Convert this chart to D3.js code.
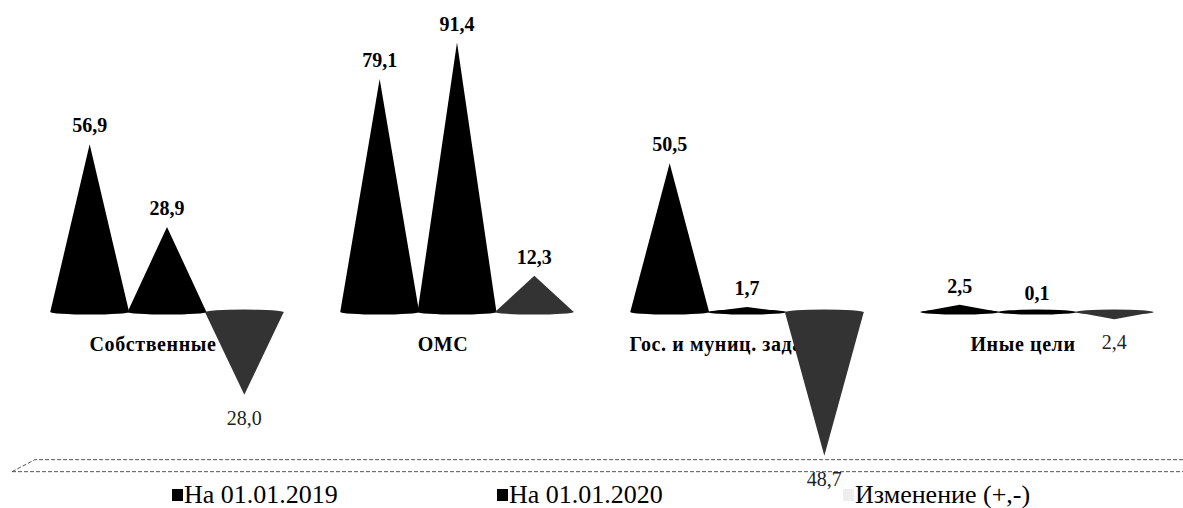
<!DOCTYPE html>
<html>
<head>
<meta charset="utf-8">
<script src="https://cdn.jsdelivr.net/npm/d3@7"></script>
<style>
  body { margin: 0; background: #fff; }
  svg { display: block; }
  .cat { font-family: 'Liberation Serif', 'Times New Roman', serif; font-weight: bold; font-size: 20px; letter-spacing: 0.6px; }
  .val { font-family: 'Liberation Serif', 'Times New Roman', serif; font-size: 20px; }
  .legend text { font-family: 'Liberation Serif', 'Times New Roman', serif; font-size: 26px; }
</style>
</head>
<body>
<script>
/* global d3 */
var categories = ['Собственные', 'ОМС', 'Гос. и муниц. задание', 'Иные цели']
var series = ['На 01.01.2019', 'На 01.01.2020', 'Изменение (+,-)']
var v2019 = [56.9, 79.1, 50.5, 2.5]
var v2020 = [28.9, 91.4, 1.7, 0.1]
var change = [-28.0, 12.3, -48.7, -2.4]

var width = 1183
var height = 508

var values = [v2019, v2020, change]
var colors = ['#000', '#000', '#333']
var legendColors = ['#000', '#000', '#eee']

var svg = d3.select('body').append('svg')
  .attr('width', width)
  .attr('height', height)

var x = d3.scaleBand()
  .domain(categories)
  .range([22, 1182])

var xs = d3.scaleBand()
  .domain(series)
  .range([29, 261])

var y = d3.scaleLinear()
  .domain([-50, 95])
  .range([459.5, 32])

var fmt = function (v) { return d3.format('.1f')(Math.abs(v)).replace('.', ',') }

// floor of the 3d plot
var floorTop = y(-48.7) + 4
var floorBottom = floorTop + 12
svg.append('path')
  .attr('d', 'M12,' + floorBottom + 'L35,' + floorTop + 'L' + (width + 5) + ',' + floorTop +
    'M12,' + floorBottom + 'L' + (width + 5) + ',' + floorBottom)
  .attr('fill', 'none')
  .attr('stroke', '#555')
  .attr('stroke-width', 1)
  .attr('stroke-dasharray', '4,2')

// category labels sit under the cones
svg.selectAll('.cat')
  .data(categories)
  .enter().append('text')
  .attr('class', 'cat')
  .attr('x', function (d) { return x(d) + x.bandwidth() / 2 - 14 })
  .attr('y', 351)
  .attr('text-anchor', 'middle')
  .text(function (d) { return d })

var points = []
categories.forEach(function (c, i) {
  series.forEach(function (s, j) {
    points.push({cat: c, series: s, si: j, value: values[j][i]})
  })
})

var cx = function (d) { return x(d.cat) + xs(d.series) + xs.bandwidth() / 2 }
var half = xs.bandwidth() * 0.51

var cones = svg.selectAll('.cone')
  .data(points)
  .enter().append('g')
  .attr('class', 'cone')

cones.append('path')
  .attr('d', function (d) {
    var c = cx(d)
    return 'M' + (c - half) + ',' + y(0) + 'L' + c + ',' + y(d.value) + 'L' + (c + half) + ',' + y(0) + 'Z'
  })
  .attr('fill', function (d) { return colors[d.si] })

cones.append('ellipse')
  .attr('cx', cx)
  .attr('cy', y(0))
  .attr('rx', half)
  .attr('ry', 2.5)
  .attr('fill', function (d) { return colors[d.si] })

svg.selectAll('.val')
  .data(points)
  .enter().append('text')
  .attr('class', 'val')
  .attr('x', cx)
  .attr('y', function (d) { return d.value >= 0 ? y(d.value) - 12 : y(d.value) + 30 })
  .attr('text-anchor', 'middle')
  .style('font-weight', function (d) { return d.value >= 0 ? 'bold' : 'normal' })
  .attr('fill', function (d) { return d.value >= 0 ? '#000' : '#222' })
  .text(function (d) { return fmt(d.value) })

var legendX = [172, 497, 843]
var legend = svg.selectAll('.legend')
  .data(series)
  .enter().append('g')
  .attr('class', 'legend')
  .attr('transform', function (d, i) { return 'translate(' + legendX[i] + ',503)' })

legend.append('rect')
  .attr('x', 0)
  .attr('y', -14)
  .attr('width', 11)
  .attr('height', 12)
  .style('fill', function (d, i) { return legendColors[i] })

legend.append('text')
  .attr('x', 12)
  .attr('y', 0)
  .text(function (d) { return d })
</script>
</body>
</html>
